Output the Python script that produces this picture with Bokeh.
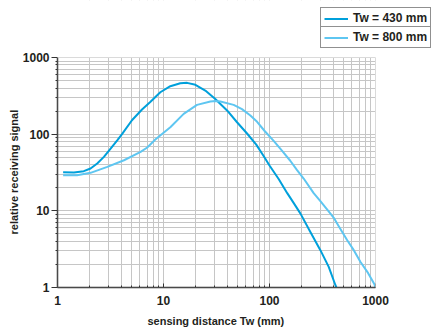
from bokeh.plotting import figure
from bokeh.models import FixedTicker, Legend, LegendItem, BoxAnnotation, Range1d, Title
from bokeh.embed import file_html
from bokeh.resources import INLINE

# sensing distance (mm) and relative receiving signal, Tw = 430 mm
x_430 = [1.13, 1.43, 1.77, 2.05, 2.37, 2.74, 3.17, 3.66, 4.06, 5.04, 6.27, 7.5, 9.33, 11.6,
         14.4, 16.7, 20, 24.8, 30.8, 39.8, 49.4, 61.4, 75, 88, 100, 122, 147, 170, 196, 243,
         302, 362, 419, 428]
y_430 = [31.8, 31.6, 32.9, 35.7, 41.4, 50.6, 65, 83, 100, 152, 210, 263, 352, 422,
         462, 467, 440, 371, 288, 204, 143, 102, 73, 52, 39, 26, 17, 12.5, 9.2, 5.3,
         3.07, 1.86, 1.07, 1.0]

# Tw = 800 mm
x_800 = [1.13, 1.53, 2.05, 2.95, 4.24, 6.08, 7.03, 8.37, 11.6, 15.5, 20.7, 27.7, 31, 34.4,
         45.9, 55, 66, 76.4, 90, 110, 131, 157, 182, 210, 261, 302, 376, 404, 450, 541, 624,
         722, 850, 977, 1000]
y_800 = [29.2, 29.2, 31.3, 37.4, 45.7, 58.7, 67, 85, 123, 184, 241, 267, 270, 267,
         241, 212, 175, 145, 110, 81, 61, 45, 34, 26.4, 17.0, 13.4, 9.2, 8.1, 6.3, 4.14, 3.07,
         2.15, 1.55, 1.1, 1.0]

series_labels = ["Tw = 430 mm", "Tw = 800 mm"]
x_title = "sensing distance Tw (mm)"
y_title = "relative receiving signal"
major_ticks = [1, 10, 100, 1000]
tick_labels = ["1", "10", "100", "1000"]
minor_steps = [2, 3, 4, 5, 6, 7, 8, 9]
minor_ticks = [d * m for d in major_ticks[:-1] for m in minor_steps]
axis_min, axis_max = major_ticks[0], major_ticks[-1]

C_DARK = "#00a0db"
C_LIGHT = "#5ec6f1"
TXT = "#231f20"
GRID = "#c6c6c6"
FONT = "Liberation Sans"

# layout (pixels): the 1..1000 box is 318 x 230 px; the frame is extended to the
# right and to the top so that the legend, which sits outside the box, is drawn.
W, H = 431, 336
B_LEFT, B_RIGHT, B_TOP, B_BOTTOM = 57, 0, 0, 49
BOX_W, BOX_H = 318, 230
frame_w = W - B_LEFT - B_RIGHT
frame_h = H - B_TOP - B_BOTTOM
x_end = axis_min * 10 ** (frame_w / (BOX_W / 3.0))
y_end = axis_min * 10 ** (frame_h / (BOX_H / 3.0))

p = figure(width=W, height=H, x_axis_type="log", y_axis_type="log",
           x_range=Range1d(axis_min, x_end), y_range=Range1d(axis_min, y_end),
           output_backend="svg", toolbar_location=None,
           min_border_left=B_LEFT, min_border_right=B_RIGHT,
           min_border_top=B_TOP, min_border_bottom=B_BOTTOM)

p.outline_line_color = None
p.background_fill_color = "white"
p.border_fill_color = "white"

overrides = {t: l for t, l in zip(major_ticks, tick_labels)}
for ax in (p.xaxis[0], p.yaxis[0]):
    ax.ticker = FixedTicker(ticks=major_ticks, minor_ticks=minor_ticks)
    ax.bounds = (axis_min, axis_max)
    ax.major_label_overrides = overrides
    ax.axis_line_color = "#333333"
    ax.axis_line_width = 1.5
    ax.major_tick_line_color = "#333333"
    ax.minor_tick_line_color = "#333333"
    ax.major_label_text_font = FONT
    ax.major_label_text_font_style = "bold"
    ax.major_label_text_font_size = "12px"
    ax.major_label_text_color = TXT

p.xaxis.major_tick_in = 4
p.xaxis.major_tick_out = 0
p.xaxis.minor_tick_in = 2
p.xaxis.minor_tick_out = 0
p.xaxis.major_label_standoff = 8

p.yaxis.major_tick_in = 0
p.yaxis.major_tick_out = 6
p.yaxis.minor_tick_in = 0
p.yaxis.minor_tick_out = 2
p.yaxis.major_label_standoff = 2

# axis titles, placed relative to the 1..1000 box
title_style = dict(text_font=FONT, text_font_style="bold", text_font_size="11px",
                   text_color=TXT, vertical_align="bottom")
p.add_layout(Title(text=x_title, align="left", offset=90, standoff=11, **title_style), "below")
p.add_layout(Title(text=y_title, align="left", offset=53, standoff=0, **title_style), "left")

for g in (p.xgrid[0], p.ygrid[0]):
    g.grid_line_color = GRID
    g.grid_line_width = 1
    g.minor_grid_line_color = GRID
    g.minor_grid_line_width = 1

r1 = p.line(x_430, y_430, line_color=C_DARK, line_width=2, line_join="round")
r2 = p.line(x_800, y_800, line_color=C_LIGHT, line_width=2, line_join="round")

# white masks hiding grid lines outside the 1..1000 box, then the box edge
p.add_layout(BoxAnnotation(bottom=axis_max, fill_color="white", fill_alpha=1.0, line_color=None))
p.add_layout(BoxAnnotation(left=axis_max, fill_color="white", fill_alpha=1.0, line_color=None))
p.add_layout(BoxAnnotation(left=axis_min, right=axis_max, bottom=axis_min, top=axis_max,
                           fill_alpha=0, line_color=GRID, line_width=1))

common = dict(padding=3, spacing=0, margin=0, label_standoff=5, glyph_width=24,
              glyph_height=13, label_height=13, label_width=74,
              border_line_color="#222222", border_line_width=1.5,
              background_fill_color="white", background_fill_alpha=1.0,
              label_text_font=FONT, label_text_font_style="bold",
              label_text_font_size="12px", label_text_color=TXT)
leg_x = 263
leg1 = Legend(items=[LegendItem(label=series_labels[0], renderers=[r1])], location=(leg_x, 258), **common)
leg2 = Legend(items=[LegendItem(label=series_labels[1], renderers=[r2])], location=(leg_x, 239), **common)
p.add_layout(leg1, "center")
p.add_layout(leg2, "center")

open("out.html", "w").write(file_html(p, INLINE))
